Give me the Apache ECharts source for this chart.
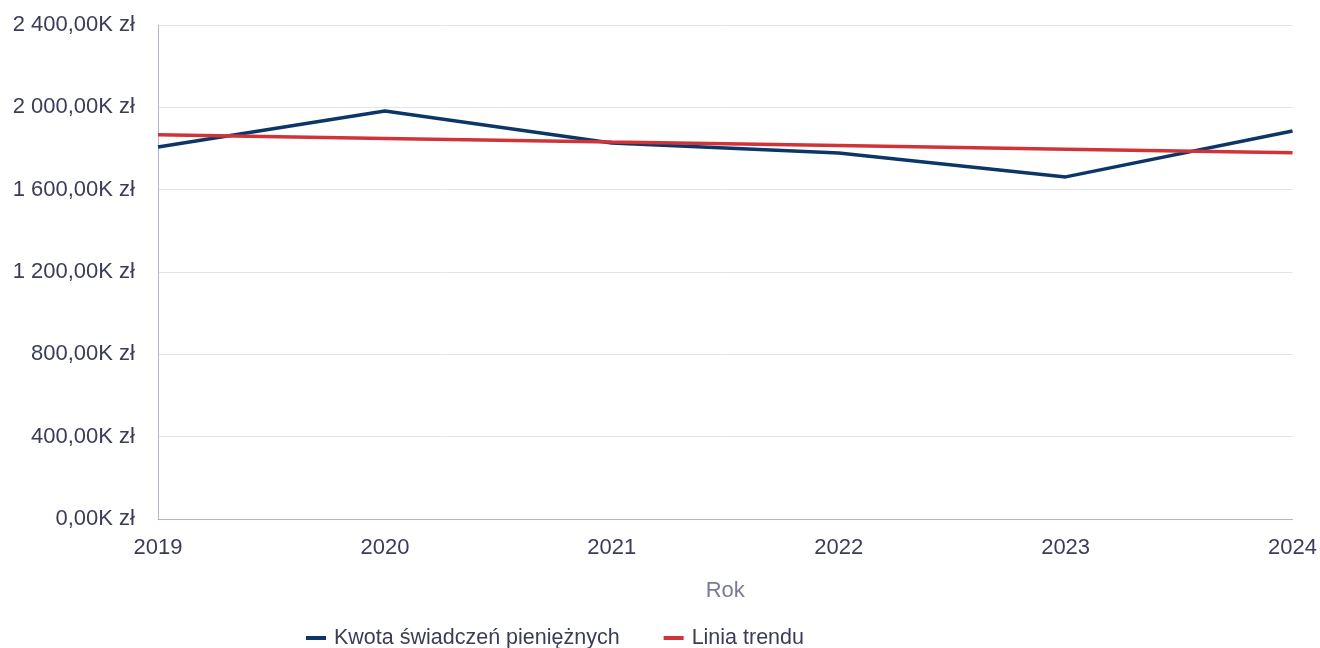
<!DOCTYPE html>
<html>
<head>
<meta charset="utf-8">
<script src="https://cdn.jsdelivr.net/npm/echarts@6/dist/echarts.min.js"></script>
<style>
  html, body { margin: 0; padding: 0; background: #fff; }
  #chart { width: 1320px; height: 648px; }
</style>
</head>
<body>
<div id="chart"></div>
<script>
// dane (w tys. zł)
const years = ["2019", "2020", "2021", "2022", "2023", "2024"];
const kwota = [1807, 1982, 1827, 1778, 1662, 1885];
const trend = [1867, 1849, 1831, 1814, 1796, 1779];

const labelColor = "#3b3d58";
const font = "'Liberation Sans', Arial, sans-serif";

function fmt(v) {
  const parts = v.toFixed(2).split(".");
  const int = parts[0].replace(/\B(?=(\d{3})+(?!\d))/g, " ");
  return int + "," + parts[1] + "K zł";
}

const chart = echarts.init(document.getElementById("chart"));
chart.setOption({
  animation: false,
  textStyle: { fontFamily: font },
  grid: { left: 158, right: 23, top: 25, bottom: 129, containLabel: false },
  legend: {
    left: 301,
    top: 622,
    icon: "rect",
    itemWidth: 20,
    itemHeight: 4,
    itemGap: 44,
    textStyle: { color: labelColor, fontSize: 21.5, fontFamily: font, padding: [0, 0, 0, 3] },
    data: ["Kwota świadczeń pieniężnych", "Linia trendu"],
  },
  xAxis: {
    type: "category",
    data: years,
    boundaryGap: false,
    name: "Rok",
    nameLocation: "middle",
    nameGap: 61,
    nameTextStyle: { color: "#7a7b9c", fontSize: 22, fontFamily: font },
    axisLine: { lineStyle: { color: "#b3b3cc", width: 1 } },
    axisTick: { show: false },
    axisLabel: { color: labelColor, fontSize: 22, margin: 18, fontFamily: font },
    splitLine: { show: false },
  },
  yAxis: {
    type: "value",
    min: 0,
    max: 2400,
    interval: 400,
    axisLine: { show: true, lineStyle: { color: "#b3b3cc", width: 1 } },
    axisTick: { show: false },
    axisLabel: { color: labelColor, fontSize: 22, margin: 23, fontFamily: font, formatter: fmt },
    splitLine: { lineStyle: { color: "#e4e4ee", width: 1 } },
  },
  series: [
    {
      name: "Kwota świadczeń pieniężnych",
      type: "line",
      data: kwota,
      showSymbol: false,
      symbol: "none",
      lineStyle: { color: "#0d3668", width: 3.5 },
      itemStyle: { color: "#0d3668" },
    },
    {
      name: "Linia trendu",
      type: "line",
      data: trend,
      showSymbol: false,
      symbol: "none",
      lineStyle: { color: "#d13438", width: 3.5 },
      itemStyle: { color: "#d13438" },
    },
  ],
});
</script>
</body>
</html>
